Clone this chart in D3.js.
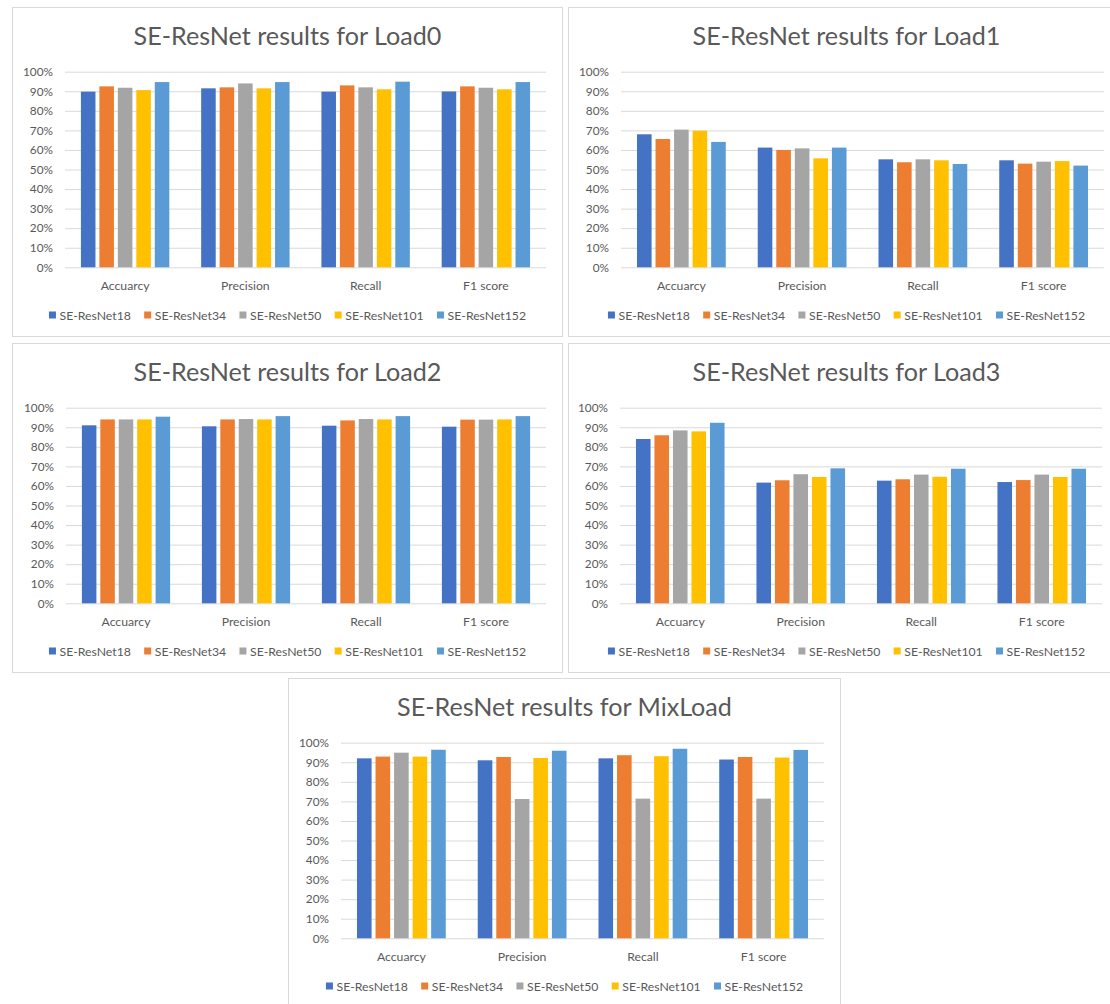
<!DOCTYPE html>
<html>
<head>
<meta charset="utf-8">
<script src="https://cdn.jsdelivr.net/npm/d3@7"></script>
<style>
  body { margin: 0; background: #fff; }
  svg { display: block; font-family: Lato, "Open Sans", sans-serif; }
</style>
</head>
<body>
<svg id="chart" width="1110" height="1004"></svg>
<script>
// ---- data ----
const categories = ["Accuarcy", "Precision", "Recall", "F1 score"];
const models = ["SE-ResNet18", "SE-ResNet34", "SE-ResNet50", "SE-ResNet101", "SE-ResNet152"];
const modelColors = ["#4472C4", "#ED7D31", "#A5A5A5", "#FFC000", "#5B9BD5"];
const yTickValues = [0, 0.1, 0.2, 0.3, 0.4, 0.5, 0.6, 0.7, 0.8, 0.9, 1.0];

// one row per model, columns follow `categories`
const load0 = [
  [0.898, 0.915, 0.898, 0.899],
  [0.925, 0.920, 0.930, 0.925],
  [0.918, 0.940, 0.920, 0.918],
  [0.906, 0.915, 0.910, 0.910],
  [0.947, 0.947, 0.949, 0.947]
];
const load1 = [
  [0.680, 0.612, 0.552, 0.547],
  [0.656, 0.600, 0.537, 0.530],
  [0.704, 0.608, 0.552, 0.540],
  [0.698, 0.557, 0.547, 0.543],
  [0.641, 0.612, 0.528, 0.520]
];
const load2 = [
  [0.910, 0.905, 0.908, 0.903],
  [0.940, 0.940, 0.935, 0.939],
  [0.940, 0.942, 0.942, 0.939],
  [0.940, 0.940, 0.940, 0.940],
  [0.954, 0.957, 0.957, 0.957]
];
const load3 = [
  [0.840, 0.617, 0.627, 0.620],
  [0.859, 0.629, 0.634, 0.630],
  [0.884, 0.660, 0.658, 0.658],
  [0.879, 0.646, 0.647, 0.646],
  [0.923, 0.690, 0.688, 0.688]
];
const mixLoad = [
  [0.920, 0.910, 0.920, 0.914],
  [0.929, 0.927, 0.936, 0.927],
  [0.949, 0.712, 0.714, 0.714],
  [0.929, 0.922, 0.931, 0.924],
  [0.964, 0.959, 0.969, 0.963]
];

const chartTitles = [
  "SE-ResNet results for Load0",
  "SE-ResNet results for Load1",
  "SE-ResNet results for Load2",
  "SE-ResNet results for Load3",
  "SE-ResNet results for MixLoad"
];
const chartValues = [load0, load1, load2, load3, mixLoad];

// ---- layout of the five chart boxes ----
const layout = [
  { x: 12,  y: 7,   w: 551, h: 330, px0: 65,  px1: 546 },
  { x: 568, y: 7,   w: 557, h: 330, px0: 621, px1: 1104 },
  { x: 12,  y: 343, w: 551, h: 330, px0: 66,  px1: 546 },
  { x: 568, y: 343, w: 557, h: 330, px0: 620, px1: 1102 },
  { x: 288, y: 678, w: 553, h: 330, px0: 341, px1: 824 }
];

const textColor = "#595959";
const gridColor = "#D9D9D9";

const svg = d3.select("#chart");

// font size that makes a sample string span a given width
function fitSize(str, target) {
  const t = svg.append("text").attr("font-size", 100).text(str);
  const w = t.node().getComputedTextLength();
  t.remove();
  return 100 * target / w;
}
const titleSize = fitSize("SE-ResNet results for Load0", 308);
const tickSize = fitSize("100%", 30);
const catSize = fitSize("Accuarcy", 49);
const legendSize = fitSize("SE-ResNet18", 71.4);

function drawChart(title, values, L) {
  const g = svg.append("g");

  g.append("rect")
    .attr("x", L.x + 0.5).attr("y", L.y + 0.5)
    .attr("width", L.w - 1).attr("height", L.h - 1)
    .attr("fill", "#fff").attr("stroke", gridColor);

  const plotTop = L.y + 64.7, plotBottom = L.y + 260.3;

  const y = d3.scaleLinear().domain([0, 1]).range([plotBottom, plotTop]);
  const x0 = d3.scaleBand().domain(categories).range([L.px0, L.px1]).padding(0);
  // clustered columns: gap width 219%, overlap -27%
  const x1 = d3.scaleBand().domain(models).range([0, x0.bandwidth()])
    .paddingInner(0.27 / 1.27).paddingOuter(0.862);

  // title
  g.append("text")
    .attr("x", L.x + L.w / 2).attr("y", L.y + 38)
    .attr("text-anchor", "middle")
    .attr("font-size", titleSize).attr("fill", textColor)
    .text(title);

  // value axis with gridlines
  const yAxis = d3.axisLeft(y)
    .tickValues(yTickValues)
    .tickFormat(d3.format(".0%"))
    .tickSize(-(L.px1 - L.px0))
    .tickPadding(12);
  const ya = g.append("g").attr("transform", `translate(${L.px0},0)`).call(yAxis);
  ya.select(".domain").remove();
  ya.selectAll(".tick line").attr("stroke", gridColor).attr("stroke-width", 1);
  ya.selectAll(".tick text")
    .attr("fill", textColor)
    .attr("font-size", tickSize)
    .attr("font-family", "Lato, 'Open Sans', sans-serif");

  // bars
  const groups = g.selectAll(".cat").data(categories).join("g")
    .attr("transform", c => `translate(${x0(c)},0)`);
  groups.selectAll("rect")
    .data((c, ci) => models.map((m, mi) => ({ m, mi, v: values[mi][ci] })))
    .join("rect")
    .attr("x", d => x1(d.m))
    .attr("width", x1.bandwidth())
    .attr("y", d => y(d.v))
    .attr("height", d => y(0) - y(d.v))
    .attr("fill", d => modelColors[d.mi]);

  // category labels
  g.selectAll(".catLabel").data(categories).join("text")
    .attr("x", c => x0(c) + x0.bandwidth() / 2)
    .attr("y", L.y + 278)
    .attr("text-anchor", "middle")
    .attr("dominant-baseline", "central")
    .attr("font-size", catSize).attr("fill", textColor)
    .text(c => c);

  // legend
  const sw = 7, swGap = 3.6, itemGap = 13.3;
  const lg = g.append("g");
  const items = lg.selectAll("g").data(models).join("g");
  items.append("text")
    .attr("dominant-baseline", "central")
    .attr("font-size", legendSize).attr("fill", textColor)
    .attr("x", sw + swGap).attr("y", 0)
    .text(d => d);
  const widths = [];
  items.each(function () {
    widths.push(sw + swGap + d3.select(this).select("text").node().getComputedTextLength());
  });
  const total = d3.sum(widths) + itemGap * (widths.length - 1);
  let cx = L.x + L.w / 2 - total / 2;
  const legendY = L.y + 308;
  items.each(function (d, i) {
    d3.select(this).attr("transform", `translate(${cx},${legendY})`);
    cx += widths[i] + itemGap;
  });
  items.insert("rect", "text")
    .attr("x", 0).attr("y", -sw / 2)
    .attr("width", sw).attr("height", sw)
    .attr("fill", (d, i) => modelColors[i]);
}

chartTitles.forEach((t, i) => drawChart(t, chartValues[i], layout[i]));
</script>
</body>
</html>
